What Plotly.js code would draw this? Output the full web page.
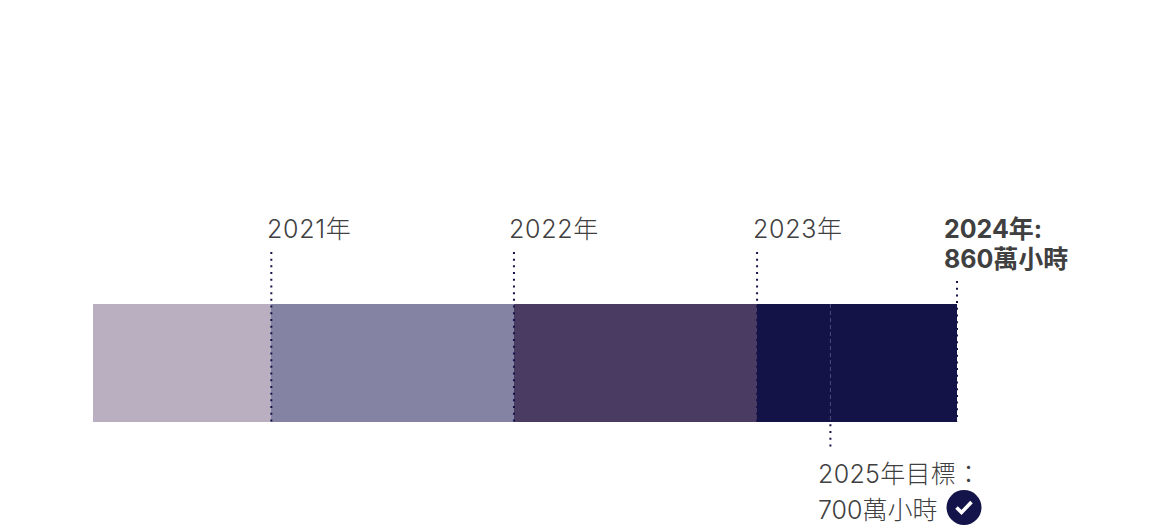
<!DOCTYPE html>
<html><head><meta charset="utf-8">
<script src="https://cdn.plot.ly/plotly-3.0.1.min.js"></script>
<style>html,body{margin:0;padding:0;background:#fff}#c{width:1150px;height:531px}</style>
</head><body><div id="c"></div>
<script>
// Segment widths (cumulative 177.5, 419, 661, 860)
const segmentNames = ['2020','2021','2022','2023'];
const segmentValues = [177.5, 241.5, 242, 199];
const segmentColors = ['#b9afc1','#8583a3','#4a3b63','#141347'];
// Marker positions along the bar
const yearMarks = [177.5, 419, 661];
const yearLabels = ['2021年','2022年','2023年'];
const totalMark = 860;
const totalLabels = ['2024年:','860萬小時'];
const targetMark = 734;
const targetLabels = ['2025年目標：','700萬小時'];

const W=1150,H=531,L=93,R=957,T=304,B=422;
const kx=(R-L)/totalMark, ky=B-T;
const font='Inter, "Noto Sans CJK TC", sans-serif';
const navy='#14134a', ink='#404040';
const dot='2px,4.7px';
const px=x=>x/W, py=y=>1-y/H;

const traces=segmentValues.map((v,i)=>({type:'bar',orientation:'h',y:[0.5],x:[v],width:[1],name:segmentNames[i],
  marker:{color:segmentColors[i],line:{width:0}},hoverinfo:'skip',showlegend:false}));
const line=(x,y0,y1,c,d,w)=>({type:'scatter',mode:'lines',x:[x,x],y:[y0,y1],line:{color:c,width:w||2,dash:d||dot},hoverinfo:'skip',showlegend:false});
yearMarks.forEach(m=>traces.push(line(m,1.441,0,navy)));
traces.push(line(totalMark,1.195,0,navy));
traces.push(line(targetMark,1,0,'#4b4a78','4px,3px',1));
traces.push(line(targetMark,-0.02,-0.212,navy));

const ann=(x,y,text,shift,bold,sp)=>({x,y,xref:'x',yref:'y',
  text:bold?'<b>'+text+'</b>':'<span style="letter-spacing:'+sp+'px">'+text+'</span>',
  showarrow:false,xanchor:'left',yanchor:'middle',xshift:shift,
  font:{family:font,size:25,color:ink,weight:bold?700:300}});
const yOf=p=>(B-p)/ky;
const annotations=[];
yearMarks.forEach((m,i)=>annotations.push(ann(m,yOf(228.5),yearLabels[i],-6.5,false,0.7)));
annotations.push(ann(totalMark,yOf(228.5),totalLabels[0],-15.5,true));
annotations.push(ann(totalMark,yOf(259),totalLabels[1],-15.5,true));
annotations.push(ann(targetMark,yOf(474),targetLabels[0],-14,false,0.3));
annotations.push(ann(targetMark,yOf(510),targetLabels[1],-14,false,0));

const shapes=[
 {type:'circle',xref:'paper',yref:'paper',x0:px(946.5),x1:px(981.5),y0:py(525),y1:py(490),fillcolor:navy,line:{width:0}},
 {type:'path',xref:'paper',yref:'paper',path:`M ${px(956.5)} ${py(507.5)} L ${px(961.5)} ${py(512.5)} L ${px(971.5)} ${py(502)}`,line:{color:'#fff',width:3.6}}
];

Plotly.newPlot('c',traces,{
  width:W,height:H,margin:{l:0,r:0,t:0,b:0,pad:0},paper_bgcolor:'#fff',plot_bgcolor:'#fff',
  barmode:'stack',bargap:0,showlegend:false,hovermode:false,
  xaxis:{range:[-L/kx,(W-L)/kx],visible:false,fixedrange:true},
  yaxis:{range:[-(H-B)/ky,B/ky],visible:false,fixedrange:true},
  annotations,shapes
},{displayModeBar:false,staticPlot:true});
</script></body></html>
